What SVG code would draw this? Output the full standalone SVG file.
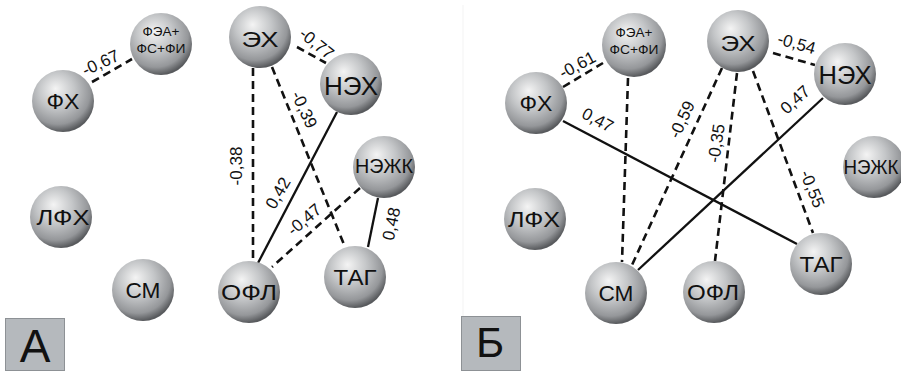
<svg xmlns="http://www.w3.org/2000/svg" width="901" height="374" viewBox="0 0 901 374">
<defs>
<radialGradient id="sph" cx="0.42" cy="0.36" r="0.64" fx="0.38" fy="0.3">
<stop offset="0" stop-color="#f4f4f4"/>
<stop offset="0.45" stop-color="#c4c6c8"/>
<stop offset="0.82" stop-color="#95979a"/>
<stop offset="1" stop-color="#585a5d"/>
</radialGradient>
<style>
.n{fill:url(#sph)}
.t{font-family:"Liberation Sans",Arial,sans-serif;fill:#111;text-anchor:middle}
.nl{font-size:22px}
.sm{font-size:13px}
.el{font-family:"Liberation Sans",Arial,sans-serif;font-size:17px;fill:#111;text-anchor:middle}
.d{stroke:#111;stroke-width:2.6;stroke-dasharray:8 5;fill:none}
.s{stroke:#111;stroke-width:2.3;fill:none}
.box{fill:#b5b9bd;stroke:#8d9195;stroke-width:1}
.big{font-family:"Liberation Sans",Arial,sans-serif;fill:#111;text-anchor:middle}
</style>
</defs>
<rect width="901" height="374" fill="#fff"/>
<line x1="463" y1="5" x2="463" y2="316" stroke="#f3f3f3" stroke-width="1"/>

<g id="connectors">
<!-- Panel A -->
<line class="d" x1="92" y1="82" x2="132" y2="59"/>
<line class="d" x1="297" y1="47" x2="326" y2="63"/>
<line class="d" x1="253" y1="68" x2="253" y2="261"/>
<line class="d" x1="272" y1="67" x2="345" y2="247"/>
<line class="s" x1="337" y1="112" x2="258" y2="263"/>
<line class="d" x1="360" y1="188" x2="272" y2="267"/>
<line class="s" x1="378" y1="198" x2="368" y2="247"/>
<!-- Panel B -->
<line class="d" x1="563" y1="87" x2="603" y2="63"/>
<line class="d" x1="628" y1="78" x2="622" y2="262"/>
<line class="s" x1="563" y1="121" x2="797" y2="244"/>
<line class="d" x1="722" y1="68" x2="632" y2="265"/>
<line class="d" x1="737" y1="73" x2="715" y2="261"/>
<line class="d" x1="753" y1="71" x2="813" y2="233"/>
<line class="s" x1="823" y1="98" x2="638" y2="270"/>
<line class="d" x1="773" y1="53" x2="815" y2="65"/>

<text class="el" transform="translate(103,68) rotate(-25)">-0,67</text>
<text class="el" transform="translate(313,48) rotate(39)">-0,77</text>
<text class="el" transform="translate(242,166) rotate(-90)">-0,38</text>
<text class="el" transform="translate(299,112) rotate(65)">-0,39</text>
<text class="el" transform="translate(283,196) rotate(-60)">0,42</text>
<text class="el" transform="translate(308,224) rotate(-40)">-0,47</text>
<text class="el" transform="translate(397,225) rotate(-78)">0,48</text>

<text class="el" transform="translate(580,70) rotate(-28)">-0,61</text>
<text class="el" transform="translate(595,125) rotate(28)">0,47</text>
<text class="el" transform="translate(687,122) rotate(-65)">-0,59</text>
<text class="el" transform="translate(722,144) rotate(-82)">-0,35</text>
<text class="el" transform="translate(807,191) rotate(68)">-0,55</text>
<text class="el" transform="translate(799,104) rotate(-42)">0,47</text>
<text class="el" transform="translate(795,49) rotate(16)">-0,54</text>
</g>

<!-- Panel A nodes -->
<g id="a-fea"><circle class="n" cx="161" cy="44" r="31"/><text class="t sm" x="161" y="36" textLength="37" lengthAdjust="spacingAndGlyphs">ФЭА+</text><text class="t sm" x="161" y="53" textLength="49" lengthAdjust="spacingAndGlyphs">ФС+ФИ</text></g>
<g id="a-fh"><circle class="n" cx="63" cy="101" r="31"/><text class="t nl" x="63" y="109" textLength="33" lengthAdjust="spacingAndGlyphs">ФХ</text></g>
<g id="a-eh"><circle class="n" cx="260" cy="37" r="31"/><text class="t nl" x="260" y="47" textLength="37" lengthAdjust="spacingAndGlyphs">ЭХ</text></g>
<g id="a-neh"><circle class="n" cx="351" cy="84" r="31"/><text class="t" style="font-size:26px" x="351" y="95" textLength="54" lengthAdjust="spacingAndGlyphs">НЭХ</text></g>
<g id="a-nezhk"><circle class="n" cx="384" cy="167" r="31"/><text class="t" style="font-size:20px" x="384" y="173" textLength="58" lengthAdjust="spacingAndGlyphs">НЭЖК</text></g>
<g id="a-tag"><circle class="n" cx="355" cy="277" r="31"/><text class="t nl" x="355" y="285" textLength="43" lengthAdjust="spacingAndGlyphs">ТАГ</text></g>
<g id="a-ofl"><circle class="n" cx="249" cy="292" r="31"/><text class="t nl" x="249" y="300" textLength="56" lengthAdjust="spacingAndGlyphs">ОФЛ</text></g>
<g id="a-lfh"><circle class="n" cx="61" cy="217" r="31"/><text class="t nl" x="63" y="225" textLength="53" lengthAdjust="spacingAndGlyphs">ЛФХ</text></g>
<g id="a-sm"><circle class="n" cx="143" cy="290" r="31"/><text class="t nl" x="143" y="298" textLength="35" lengthAdjust="spacingAndGlyphs">СМ</text></g>
<g id="label-a"><rect class="box" x="5.5" y="318.5" width="59" height="52"/><text class="big" x="35" y="362" style="font-size:46px">А</text></g>

<!-- Panel B nodes -->
<g id="b-fea"><circle class="n" cx="634" cy="45" r="32"/><text class="t sm" x="634" y="37" textLength="37" lengthAdjust="spacingAndGlyphs">ФЭА+</text><text class="t sm" x="634" y="54" textLength="49" lengthAdjust="spacingAndGlyphs">ФС+ФИ</text></g>
<g id="b-fh"><circle class="n" cx="536" cy="103" r="31"/><text class="t nl" x="536" y="111" textLength="33" lengthAdjust="spacingAndGlyphs">ФХ</text></g>
<g id="b-eh"><circle class="n" cx="738" cy="41" r="31"/><text class="t nl" x="738" y="51" textLength="35" lengthAdjust="spacingAndGlyphs">ЭХ</text></g>
<g id="b-neh"><circle class="n" cx="845" cy="74" r="31"/><text class="t" style="font-size:26px" x="845" y="84" textLength="53" lengthAdjust="spacingAndGlyphs">НЭХ</text></g>
<g id="b-nezhk"><circle class="n" cx="874" cy="167" r="31"/><text class="t" style="font-size:20px" x="871" y="174" textLength="55" lengthAdjust="spacingAndGlyphs">НЭЖК</text></g>
<g id="b-tag"><circle class="n" cx="821" cy="264" r="31"/><text class="t nl" x="821" y="272" textLength="43" lengthAdjust="spacingAndGlyphs">ТАГ</text></g>
<g id="b-ofl"><circle class="n" cx="714" cy="292" r="31"/><text class="t nl" x="713" y="300" textLength="52" lengthAdjust="spacingAndGlyphs">ОФЛ</text></g>
<g id="b-lfh"><circle class="n" cx="535" cy="219" r="31"/><text class="t nl" x="534" y="227" textLength="52" lengthAdjust="spacingAndGlyphs">ЛФХ</text></g>
<g id="b-sm"><circle class="n" cx="616" cy="293" r="31"/><text class="t nl" x="616" y="301" textLength="35" lengthAdjust="spacingAndGlyphs">СМ</text></g>
<g id="label-b"><rect class="box" x="461.5" y="316.5" width="59" height="54"/><text class="big" x="490" y="357" style="font-size:43px">Б</text></g>
</svg>
